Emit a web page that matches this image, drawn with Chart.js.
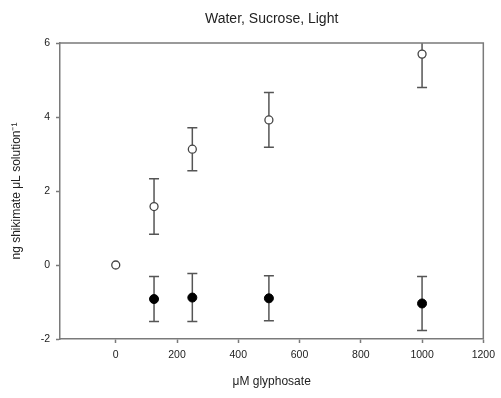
<!DOCTYPE html>
<html>
<head>
<meta charset="utf-8">
<script src="https://cdn.jsdelivr.net/npm/chart.js@4/dist/chart.umd.min.js"></script>
<style>
html,body{margin:0;padding:0;background:#fff;}
#wrap{width:501px;height:398px;position:relative;}
</style>
</head>
<body>
<div id="wrap"><canvas id="c" width="501" height="398"></canvas></div>
<script>
// Data
const openX = [0, 125, 250, 500, 1000];
const openMeans = [0, 1.58, 3.13, 3.92, 5.70];
const openErr = [0, 0.75, 0.58, 0.74, 0.90];
const filledX = [125, 250, 500, 1000];
const filledMeans = [-0.92, -0.88, -0.90, -1.04];
const filledErr = [0.61, 0.65, 0.61, 0.73];
const xTicks = [0, 200, 400, 600, 800, 1000, 1200];
const yTicks = [-2, 0, 2, 4, 6];

const axisColor = '#7a7a7a';
const textColor = '#222';
const FONT = 'Liberation Sans, Arial, sans-serif';

const errorBars = {
  id: 'errorBars',
  beforeDatasetsDraw(chart) {
    const ctx = chart.ctx, xs = chart.scales.x, ys = chart.scales.y, a = chart.chartArea;
    ctx.save();
    ctx.beginPath();
    ctx.rect(a.left, a.top, a.right - a.left, a.bottom - a.top);
    ctx.clip();
    ctx.strokeStyle = '#555';
    ctx.lineWidth = 1.5;
    chart.data.datasets.forEach(ds => {
      ds.data.forEach((p, i) => {
        const e = ds.errors[i];
        if (!e) return;
        const px = xs.getPixelForValue(p.x);
        const top = ys.getPixelForValue(p.y + e);
        const bot = ys.getPixelForValue(p.y - e);
        ctx.beginPath();
        ctx.moveTo(px, top); ctx.lineTo(px, bot);
        ctx.moveTo(px - 5, top); ctx.lineTo(px + 5, top);
        ctx.moveTo(px - 5, bot); ctx.lineTo(px + 5, bot);
        ctx.stroke();
      });
    });
    ctx.restore();
  }
};

const frame = {
  id: 'frame',
  afterDraw(chart) {
    const ctx = chart.ctx, a = chart.chartArea;
    ctx.save();
    ctx.strokeStyle = axisColor;
    ctx.lineWidth = 1.5;
    ctx.beginPath();
    ctx.moveTo(a.left, a.top); ctx.lineTo(a.right, a.top); ctx.lineTo(a.right, a.bottom);
    ctx.stroke();
    ctx.restore();
  }
};

new Chart(document.getElementById('c'), {
  type: 'scatter',
  data: {
    datasets: [
      {
        label: 'open',
        data: openX.map((x, i) => ({x, y: openMeans[i]})),
        errors: openErr,
        pointStyle: 'circle',
        pointRadius: 4,
        pointBackgroundColor: '#fff',
        pointBorderColor: '#444',
        pointBorderWidth: 1.3,
        showLine: false
      },
      {
        label: 'filled',
        data: filledX.map((x, i) => ({x, y: filledMeans[i]})),
        errors: filledErr,
        pointStyle: 'circle',
        pointRadius: 4.5,
        pointBackgroundColor: '#000',
        pointBorderColor: '#000',
        pointBorderWidth: 1,
        showLine: false
      }
    ]
  },
  options: {
    responsive: false,
    animation: false,
    layout: { padding: { left: 0, right: 16, top: 0, bottom: 0 } },
    plugins: {
      legend: { display: false },
      tooltip: { enabled: false },
      title: {
        display: true,
        fullSize: false,
        text: 'Water, Sucrose, Light',
        color: textColor,
        font: { family: FONT, size: 14, weight: 'normal' },
        padding: { top: 11, bottom: 15.2 }
      }
    },
    scales: {
      x: {
        type: 'linear',
        min: -182, max: 1200,
        afterBuildTicks: s => { s.ticks = xTicks.map(v => ({value: v})); },
        afterFit: s => { s.height = 59; },
        border: { display: true, color: axisColor, width: 1.5 },
        grid: { drawOnChartArea: false, drawTicks: true, tickLength: 4, color: axisColor, tickWidth: 1.5 },
        ticks: { color: textColor, font: { family: FONT, size: 10.5 }, padding: 6, maxRotation: 0, callback: v => String(v) },
        title: { display: true, text: 'μM glyphosate', color: textColor, font: { family: FONT, size: 12 }, padding: { top: 4, bottom: 9 } }
      },
      y: {
        type: 'linear',
        min: -2, max: 6,
        afterBuildTicks: s => { s.ticks = yTicks.map(v => ({value: v})); },
        afterFit: s => { s.width = 60; },
        border: { display: true, color: axisColor, width: 1.5 },
        grid: { drawOnChartArea: false, drawTicks: true, tickLength: 4, color: axisColor, tickWidth: 1.5 },
        ticks: { color: textColor, font: { family: FONT, size: 10.5 }, padding: 6, callback: v => String(v) },
        title: { display: true, text: 'ng shikimate μL solution⁻¹', color: textColor, font: { family: FONT, size: 12 }, padding: { top: 9, bottom: 0 } }
      }
    }
  },
  plugins: [errorBars, frame]
});
</script>
</body>
</html>
